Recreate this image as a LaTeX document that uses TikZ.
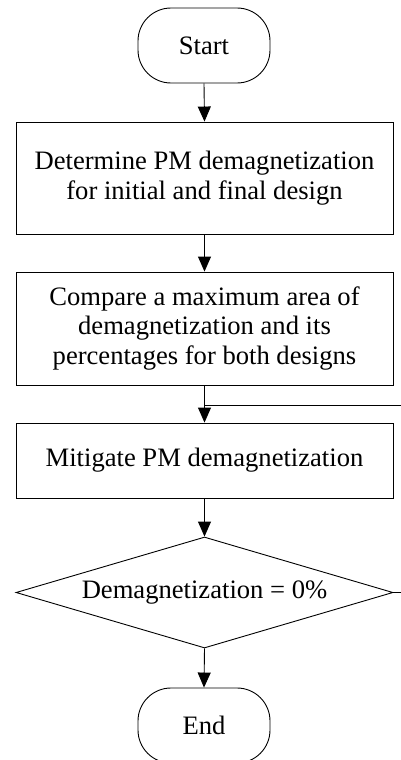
\documentclass[tikz,border=0pt]{standalone}
\usepackage{fontspec}
\setmainfont{Liberation Serif}
\usetikzlibrary{arrows.meta,shapes.geometric}
\begin{document}
\begin{tikzpicture}[x=1pt,y=-1pt,
  every node/.style={font=\fontsize{26.6}{29.5}\selectfont, inner sep=0pt, align=center},
  term/.style={draw, line width=0.9pt, rounded corners=33pt, minimum width=132pt, minimum height=75pt},
  proc/.style={draw, line width=0.9pt, minimum width=377pt},
  decis/.style={draw, line width=0.9pt, diamond, aspect=3.4, minimum width=377pt, minimum height=111pt},
  flow/.style={line width=0.9pt, -{Triangle[width=13pt,length=15pt]}},
  link/.style={line width=0.9pt}]
\useasboundingbox (0,0) rectangle (401,760);
\node[term] (start) at (204,45.5) {Start};
\node[proc, minimum height=112pt] (b1) at (204.5,178) {Determine PM demagnetization\\for initial and final design};
\node[proc, minimum height=113pt] (b2) at (204.5,328.5) {Compare a maximum area of\\demagnetization and its\\percentages for both designs};
\node[proc, minimum height=75pt] (b3) at (204.5,460.5) {Mitigate PM demagnetization};
\node[decis] (dec) at (204.5,592.5) {Demagnetization = 0\%};
\node[term] (end) at (204,725.5) {End};
\coordinate (j) at (204.5,405);
\coordinate (r1) at (401,405);
\coordinate (r2) at (401,592.5);
\draw[flow] (start.south) -- (b1.north);
\draw[flow] (b1.south) -- (b2.north);
\draw[flow] (b2.south) -- (b3.north);
\draw[flow] (b3.south) -- (dec.north);
\draw[flow] (dec.south) -- (end.north);
\draw[link] (j) -- (r1);
\draw[link] (dec.east) -- (r2);
\end{tikzpicture}
\end{document}
